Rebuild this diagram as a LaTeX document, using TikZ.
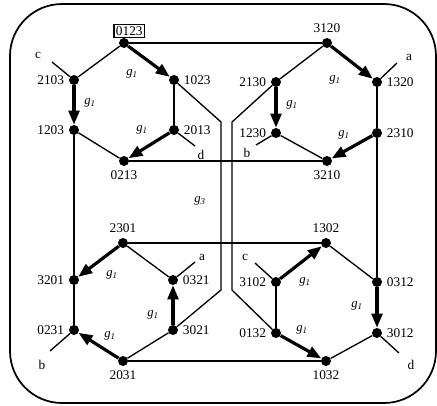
\documentclass[tikz,border=0pt]{standalone}
\usepackage{fontspec}
\setmainfont{Liberation Serif}
\usetikzlibrary{arrows.meta,positioning}

\begin{document}
\begin{tikzpicture}[
  x=0.75pt,y=-0.75pt,
  font=\fontsize{10pt}{12pt}\selectfont,
  dot/.style={circle,fill=black,inner sep=0pt,minimum size=7.5pt,label distance=1.2pt},
  wire/.style={line width=1pt},
  move/.style={-{Triangle[length=10.5pt,width=8pt]},line width=2.4pt},
  gen/.style={font=\fontsize{9.5pt}{10pt}\selectfont\itshape,inner sep=0pt},
  tag/.style={inner sep=0pt}
]
  \useasboundingbox (0,0) rectangle (437,405);
  \draw[line width=1.3pt,rounded corners=39pt] (10,4) rectangle (436,403);

  % upper left
  \node[dot,label={[draw,inner sep=1.5pt,line width=0.9pt,xshift=4pt]above:0123}] (p0123) at (124,43) {};
  \node[dot,label=left:2103] (p2103) at (74,80) {};
  \node[dot,label=right:1023] (p1023) at (174,80) {};
  \node[dot,label=left:1203] (p1203) at (74,130) {};
  \node[dot,label=right:2013] (p2013) at (174,130) {};
  \node[dot,label=below:0213] (p0213) at (124,161) {};
  % upper right
  \node[dot,label=above:3120] (p3120) at (327,43) {};
  \node[dot,label=left:2130] (p2130) at (276,82) {};
  \node[dot,label=right:1320] (p1320) at (377,82) {};
  \node[dot,label=left:1230] (p1230) at (276,133) {};
  \node[dot,label=right:2310] (p2310) at (377,133) {};
  \node[dot,label=below:3210] (p3210) at (327,161) {};
  % lower left
  \node[dot,label=above:2301] (p2301) at (123,243) {};
  \node[dot,label=left:3201] (p3201) at (74,280) {};
  \node[dot,label=right:0321] (p0321) at (173,280) {};
  \node[dot,label=left:0231] (p0231) at (74,330) {};
  \node[dot,label=right:3021] (p3021) at (173,330) {};
  \node[dot,label=below:2031] (p2031) at (123,361) {};
  % lower right
  \node[dot,label=above:1302] (p1302) at (326,243) {};
  \node[dot,label=left:3102] (p3102) at (276,282) {};
  \node[dot,label=right:0312] (p0312) at (377,282) {};
  \node[dot,label=left:0132] (p0132) at (276,333) {};
  \node[dot,label=right:3012] (p3012) at (377,333) {};
  \node[dot,label=below:1032] (p1032) at (326,361) {};

  % loose ends
  \coordinate (endc1) at (52,62);
  \coordinate (endd1) at (195,146);
  \coordinate (enda1) at (397,63);
  \coordinate (endb1) at (256,145);
  \coordinate (enda2) at (195,262);
  \coordinate (endb2) at (50,351);
  \coordinate (endc2) at (255,263);
  \coordinate (endd2) at (399,353);
  \node[tag] (tc1) at (38,55) {c};
  \node[tag] (td1) at (201,155) {d};
  \node[tag] (ta1) at (409,57) {a};
  \node[tag] (tb1) at (247,153) {b};
  \node[tag] (ta2) at (202,257) {a};
  \node[tag] (tb2) at (42,365) {b};
  \node[tag] (tc2) at (245,257) {c};
  \node[tag] (td2) at (411,365) {d};

  % bends of the middle links
  \coordinate (bl1) at (221,122);
  \coordinate (bl2) at (221,290);
  \coordinate (br1) at (232,122);
  \coordinate (br2) at (232,290);

  \draw[wire] (p0123) -- (p2103);
  \draw[wire] (p1023) -- (p2013);
  \draw[wire] (p1203) -- (p0213);
  \draw[wire] (p3120) -- (p2130);
  \draw[wire] (p1320) -- (p2310);
  \draw[wire] (p1230) -- (p3210);
  \draw[wire] (p2301) -- (p0321);
  \draw[wire] (p3201) -- (p0231);
  \draw[wire] (p2031) -- (p3021);
  \draw[wire] (p1302) -- (p0312);
  \draw[wire] (p3102) -- (p0132);
  \draw[wire] (p3012) -- (p1032);

  \draw[wire] (p0123) -- (p3120);
  \draw[wire] (p0213) -- (p3210);
  \draw[wire] (p2301) -- (p1302);
  \draw[wire] (p2031) -- (p1032);
  \draw[wire] (p1203) -- (p3201);
  \draw[wire] (p2310) -- (p0312);
  \draw[wire] (p1023) -- (bl1) -- (bl2) -- (p3021);
  \draw[wire] (p2130) -- (br1) -- (br2) -- (p0132);

  \draw[wire] (p2103) -- (endc1);
  \draw[wire] (p2013) -- (endd1);
  \draw[wire] (p1320) -- (enda1);
  \draw[wire] (p1230) -- (endb1);
  \draw[wire] (p0321) -- (enda2);
  \draw[wire] (p0231) -- (endb2);
  \draw[wire] (p3102) -- (endc2);
  \draw[wire] (p3012) -- (endd2);

  \draw[move] (p0123) -- (p1023);
  \draw[move] (p2103) -- (p1203);
  \draw[move] (p2013) -- (p0213);
  \draw[move] (p3120) -- (p1320);
  \draw[move] (p2130) -- (p1230);
  \draw[move] (p2310) -- (p3210);
  \draw[move] (p2301) -- (p3201);
  \draw[move] (p3021) -- (p0321);
  \draw[move] (p2031) -- (p0231);
  \draw[move] (p3102) -- (p1302);
  \draw[move] (p0312) -- (p3012);
  \draw[move] (p0132) -- (p1032);

  \node[gen] (g1a) at (132,74) {g\textsubscript{1}};
  \node[gen] (g1b) at (90,103) {g\textsubscript{1}};
  \node[gen] (g1c) at (142,130) {g\textsubscript{1}};
  \node[gen] (g1d) at (335,80) {g\textsubscript{1}};
  \node[gen] (g1e) at (292,105) {g\textsubscript{1}};
  \node[gen] (g1f) at (344,135) {g\textsubscript{1}};
  \node[gen] (g1g) at (112,275) {g\textsubscript{1}};
  \node[gen] (g1h) at (153,315) {g\textsubscript{1}};
  \node[gen] (g1i) at (110,336) {g\textsubscript{1}};
  \node[gen] (g1j) at (305,282) {g\textsubscript{1}};
  \node[gen] (g1k) at (357,306) {g\textsubscript{1}};
  \node[gen] (g1l) at (302,330) {g\textsubscript{1}};
  \node[gen] (g3) at (200,201) {g\textsubscript{3}};
\end{tikzpicture}
\end{document}
